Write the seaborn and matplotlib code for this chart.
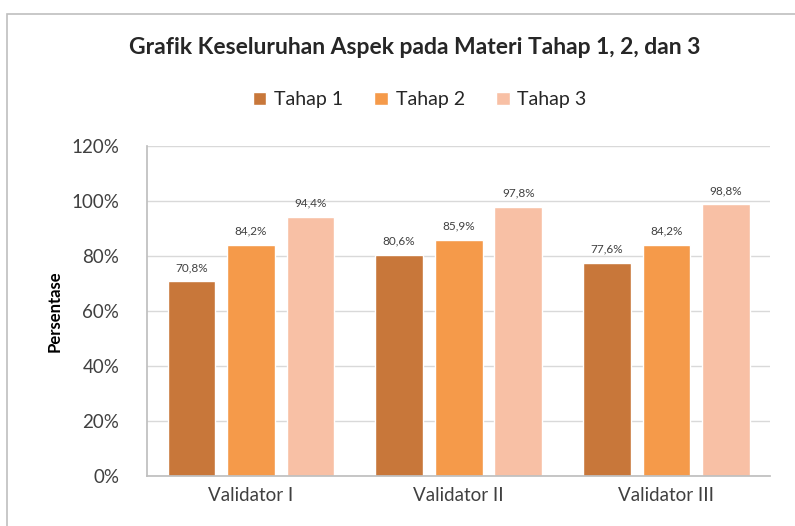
import matplotlib

matplotlib.use("Agg")
import matplotlib.pyplot as plt
import pandas as pd
import seaborn as sns
from matplotlib.patches import Rectangle
from matplotlib.ticker import PercentFormatter

validators = ["Validator I", "Validator II", "Validator III"]
stages = ["Tahap 1", "Tahap 2", "Tahap 3"]
tahap1 = [70.8, 80.6, 77.6]
tahap2 = [84.2, 85.9, 84.2]
tahap3 = [94.4, 97.8, 98.8]
colors = ["#C8773A", "#F59A4A", "#F8C0A5"]

rows = []
for stage, vals in zip(stages, [tahap1, tahap2, tahap3]):
    for v, val in zip(validators, vals):
        rows.append({"validator": v, "tahap": stage, "nilai": val / 100})
df = pd.DataFrame(rows)

sns.set_theme(style="white")
plt.rcParams["font.family"] = ["Lato", "DejaVu Sans"]

fig = plt.figure(figsize=(7.95, 5.26), dpi=100)
ax = fig.add_axes([0.185, 0.095, 0.784, 0.627])

sns.barplot(data=df, x="validator", y="nilai", hue="tahap", order=validators,
            hue_order=stages, palette=colors, width=0.86, gap=0.2,
            saturation=1, ax=ax, legend=True)

for cont, vals in zip(ax.containers, [tahap1, tahap2, tahap3]):
    labels = [f"{v:.1f}%".replace(".", ",") for v in vals]
    ax.bar_label(cont, labels=labels, padding=6, fontsize=8.5, color="#404040")

ax.set_ylim(0, 1.2)
ax.set_xlim(-0.5, 2.5)
ax.set_yticks([0, 0.2, 0.4, 0.6, 0.8, 1.0, 1.2])
ax.yaxis.set_major_formatter(PercentFormatter(1.0, decimals=0))
ax.yaxis.grid(True, color="#D9D9D9", linewidth=1)
ax.set_axisbelow(True)
ax.tick_params(axis="both", labelsize=13.5, colors="#404040", length=0)
ax.tick_params(axis="y", pad=20)
ax.tick_params(axis="x", pad=8)
ax.set_xlabel("")
ax.set_ylabel("Persentase", fontsize=12, fontweight="bold", color="black", labelpad=6)
for side in ["top", "right"]:
    ax.spines[side].set_visible(False)
for side in ["left", "bottom"]:
    ax.spines[side].set_color("#BFBFBF")

ax.legend(loc="center", bbox_to_anchor=(0.528, 0.81), bbox_transform=fig.transFigure,
          ncol=3, frameon=False, fontsize=14, handlelength=0.7, handleheight=0.7,
          handletextpad=0.4, columnspacing=1.6)

fig.text(0.522, 0.91, "Grafik Keseluruhan Aspek pada Materi Tahap 1, 2, dan 3",
         ha="center", va="center", fontsize=16.5, fontweight="bold")

fig.patches.append(Rectangle((7 / 795, -0.1), 1.2, 1.1 - 14 / 526, transform=fig.transFigure,
                             fill=False, edgecolor="#BFBFBF", linewidth=1.2))

fig.savefig("out.png", dpi=100)
plt.close(fig)
